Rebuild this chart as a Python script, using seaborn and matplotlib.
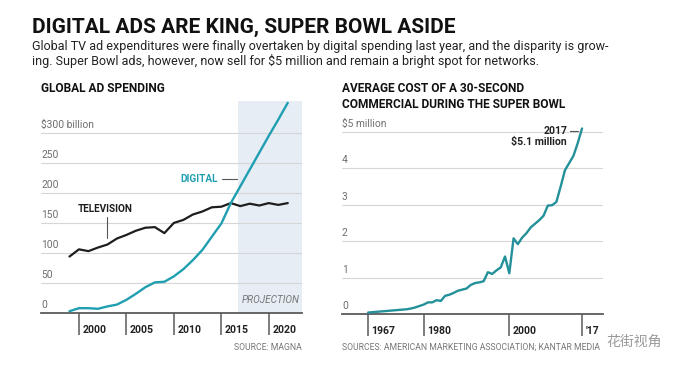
import matplotlib
matplotlib.use('Agg')
import matplotlib.pyplot as plt
import seaborn as sns
import pandas as pd
from matplotlib import transforms
from matplotlib import font_manager as fm

# --- data ---
ad_years = list(range(1999, 2023))
tv_spend = [94, 106, 103, 109, 114, 124, 130, 137, 142, 143, 133, 150,
            155, 164, 169, 176, 177, 183, 178, 182, 179, 183, 180, 183]
digital_spend = [3, 8, 8, 7, 11, 14, 22, 32, 43, 51, 52, 61,
                 73, 88, 105, 127, 149, 183, 211, 239, 267, 295, 322, 350]
ad_xticks = [2000, 2005, 2010, 2015, 2020]
ad_yticks = [0, 50, 100, 150, 200, 250, 300]
ad_ylabels = ['0', '50', '100', '150', '200', '250', '$300 billion']
projection_start = 2016.8

sb_years = list(range(1967, 2018))
sb_cost = [0.04, 0.05, 0.06, 0.07, 0.08, 0.09, 0.10, 0.11, 0.12, 0.13,
           0.15, 0.18, 0.22, 0.26, 0.32, 0.32, 0.38, 0.36, 0.50, 0.53,
           0.58, 0.64, 0.67, 0.70, 0.80, 0.85, 0.87, 0.90, 1.15, 1.10,
           1.20, 1.28, 1.58, 1.12, 2.08, 1.92, 2.10, 2.22, 2.38, 2.48,
           2.58, 2.70, 2.98, 2.99, 3.08, 3.50, 3.95, 4.15, 4.35, 4.70,
           5.10]
sb_xticks = [1967, 1980, 2000, 2017]
sb_xlabels = ['1967', '1980', '2000', "'17"]
sb_yticks = [0, 1, 2, 3, 4, 5]
sb_ylabels = ['0', '1', '2', '3', '4', '$5 million']


def pick(*names):
    for n in names:
        try:
            fm.findfont(fm.FontProperties(family=n), fallback_to_default=False)
            return n
        except ValueError:
            pass
    return 'DejaVu Sans'


sns.set_theme(style='white')
BODY = pick('Roboto', 'Liberation Sans', 'DejaVu Sans')
TITLE = pick('Liberation Sans Narrow', 'Roboto', 'DejaVu Sans')
CJK = pick('Noto Sans CJK SC', 'DejaVu Sans')
plt.rcParams['font.family'] = [BODY, 'DejaVu Sans']

TEAL = '#1f9fb0'
TEAL_DARK = '#23909a'
GRID = '#d6d6d6'
AXIS = '#5a5a5a'
LABEL_GRAY = '#6e6e6e'

fig = plt.figure(figsize=(6.74, 3.70), dpi=100)
W, H = 674, 370


def axes_px(x0, x1, y_top, y_bot):
    return fig.add_axes([x0 / W, 1 - y_bot / H, (x1 - x0) / W, (y_bot - y_top) / H])


def style_axes(ax, yticks, ylabels, xticks, xlabels):
    for s in ['top', 'right', 'left']:
        ax.spines[s].set_visible(False)
    ax.spines['bottom'].set_color(AXIS)
    ax.spines['bottom'].set_linewidth(1.3)
    ax.set_yticks(yticks[1:])
    ax.set_yticklabels([])
    ax.tick_params(axis='y', length=0)
    ax.yaxis.grid(True, color=GRID, linewidth=0.8)
    ax.xaxis.grid(False)
    ax.set_xticks(xticks)
    ax.set_xticklabels(xlabels, fontsize=7.6, fontweight='bold', color='#222')
    ax.tick_params(axis='x', direction='out', length=15.5, width=1.1,
                   color=AXIS, pad=-6.8, bottom=True)
    # labels sit to the right of their tick, not centred on it
    shift = transforms.ScaledTranslation(0.035, 0, fig.dpi_scale_trans)
    for lab in ax.get_xticklabels():
        lab.set_ha('left')
        lab.set_transform(lab.get_transform() + shift)
    blend = transforms.blended_transform_factory(ax.transAxes, ax.transData)
    for v, t in zip(yticks, ylabels):
        ax.annotate(t, xy=(0, v), xycoords=blend, xytext=(0, 2.2),
                    textcoords='offset points', ha='left', va='bottom',
                    fontsize=7.4, color=LABEL_GRAY)
    ax.set_xlabel('')
    ax.set_ylabel('')
    ax.set_axisbelow(True)


# --- header ---
fig.text(32 / W, 1 - 33 / H, 'DIGITAL ADS ARE KING, SUPER BOWL ASIDE',
         family=TITLE, fontsize=15, fontweight='bold', color='#111',
         va='baseline', ha='left')
fig.text(32 / W, 1 - 50 / H,
         'Global TV ad expenditures were finally overtaken by digital spending last year, and the disparity is grow-',
         fontsize=9, color='#222', va='baseline', ha='left')
fig.text(32 / W, 1 - 65.5 / H,
         'ing. Super Bowl ads, however, now sell for $5 million and remain a bright spot for networks.',
         fontsize=9, color='#222', va='baseline', ha='left')

# --- left panel: global ad spending ---
ax1 = axes_px(41, 302, 101, 313)
ad = pd.DataFrame({'year': ad_years, 'tv': tv_spend, 'digital': digital_spend})
ax1.axvspan(projection_start, 2023.5, color='#e6edf5', zorder=0, lw=0)
sns.lineplot(data=ad, x='year', y='tv', ax=ax1, color='#1e1e1e', linewidth=1.6, zorder=3)
sns.lineplot(data=ad, x='year', y='digital', ax=ax1, color=TEAL, linewidth=1.7, zorder=4)
ax1.set_xlim(1996.0, 2023.5)
ax1.set_ylim(0, 353)
style_axes(ax1, ad_yticks, ad_ylabels, ad_xticks, [str(y) for y in ad_xticks])

ax1.text(2014.6, 223, 'DIGITAL', color=TEAL, fontsize=7.2, fontweight='bold',
         ha='right', va='center')
ax1.plot([2015.05, 2016.6], [223, 223], color='#555', lw=0.8)
ax1.text(2002.75, 173, 'TELEVISION', color='#1e1e1e', fontsize=7.2,
         fontweight='bold', ha='center', va='center')
ax1.plot([2002.95, 2002.95], [160, 125], color='#555', lw=0.8)
ax1.text(2023.2, 22, 'PROJECTION', color='#777', fontsize=7.2,
         fontstyle='italic', ha='right', va='center')
fig.text(41 / W, 1 - 92 / H, 'GLOBAL AD SPENDING', fontsize=8.6,
         fontweight='bold', color='#111', va='baseline', ha='left')
fig.text(302 / W, 1 - 350 / H, 'SOURCE: MAGNA', fontsize=6.2,
         color='#777', va='baseline', ha='right')

# --- right panel: super bowl ad cost ---
ax2 = axes_px(342, 603, 123, 314)
sb = pd.DataFrame({'year': sb_years, 'cost': sb_cost})
sns.lineplot(data=sb, x='year', y='cost', ax=ax2, color=TEAL_DARK, linewidth=1.7, zorder=3)
ax2.set_xlim(1960.9, 2021.9)
ax2.set_ylim(0, 5.25)
style_axes(ax2, sb_yticks, sb_ylabels, sb_xticks, sb_xlabels)

ax2.text(2013.5, 5.03, '2017', fontsize=7.6, fontweight='bold', color='#222',
         ha='right', va='center')
ax2.plot([2014.2, 2016.1], [5.03, 5.03], color='#555', lw=0.8)
ax2.text(2013.5, 4.73, '$5.1 million', fontsize=7.6, fontweight='bold',
         color='#222', ha='right', va='center')
fig.text(342 / W, 1 - 92 / H, 'AVERAGE COST OF A 30-SECOND', fontsize=8.6,
         fontweight='bold', color='#111', va='baseline', ha='left')
fig.text(342 / W, 1 - 108 / H, 'COMMERCIAL DURING THE SUPER BOWL', fontsize=8.6,
         fontweight='bold', color='#111', va='baseline', ha='left')
fig.text(342 / W, 1 - 350 / H,
         'SOURCES: AMERICAN MARKETING ASSOCIATION; KANTAR MEDIA',
         fontsize=6.2, color='#777', va='baseline', ha='left')

# watermark
fig.text(606 / W, 1 - 342 / H, '花街视角', family=[CJK, 'DejaVu Sans'],
         fontsize=10, color='#9a9a9a', va='center', ha='left')

fig.savefig('out.png', dpi=100)
